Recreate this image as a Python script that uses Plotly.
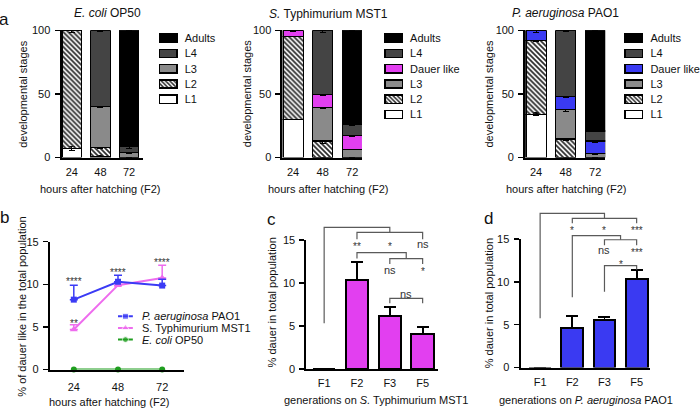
import plotly.graph_objects as go

W, H = 700, 416
FONT = "Liberation Sans, Arial, Helvetica, sans-serif"
INK = "#111111"


def fx(x):
    return x / W


def fy(y):
    return 1 - y / H


def xdom(a, b):
    return [a / W, b / W]


def ydom(top, bottom):
    return [1 - bottom / H, 1 - top / H]


# ---------------- data ----------------
hours = ["24", "48", "72"]

# panel a – E. coli OP50 (stacked %, bottom -> top)
ecoli_L1 = [7, 1, 0]
ecoli_L2 = [93, 7, 0]
ecoli_L3 = [0, 32, 4]
ecoli_L4 = [0, 60, 5]
ecoli_adults = [0, 0, 91]
ecoli_L1_err = [1.5, 0.5, 0]
ecoli_L2_err = [1.5, 1, 0]
ecoli_L3_err = [0, 1, 0.5]
ecoli_L4_err = [0, 1, 2]

# panel a – S. Typhimurium MST1
mst_L1 = [30, 0, 0]
mst_L2 = [65.3, 13, 0]
mst_L3 = [0, 26.5, 6.5]
mst_dauer = [4.7, 9.9, 10.7]
mst_L4 = [0, 50.6, 8.8]
mst_adults = [0, 0, 74]
mst_L2_err = [0.5, 2, 0]
mst_L3_err = [0, 1, 0.5]
mst_dauer_err = [0.5, 0.5, 1]
mst_L4_err = [0, 1.5, 0.5]

# panel a – P. aeruginosa PAO1
pao_L1 = [34, 0, 0]
pao_L2 = [57.8, 14.5, 0]
pao_L3 = [0, 23.2, 3]
pao_dauer = [8.2, 10.3, 9.9]
pao_L4 = [0, 52, 8]
pao_adults = [0, 0, 79.1]
pao_L1_err = [1, 0, 0]
pao_L2_err = [0.5, 1, 0]
pao_L3_err = [0, 1.5, 0.5]
pao_dauer_err = [1.5, 0.8, 1]
pao_L4_err = [0, 1, 0.5]

# panel b – % dauer like
hours_num = [24, 48, 72]
b_pao = [8.2, 10.3, 9.85]
b_pao_err = [1.7, 0.75, 0.75]
b_mst = [4.7, 9.9, 10.75]
b_mst_err = [0.55, 0.3, 1.5]
b_op50 = [0, 0, 0]
b_stars = [("****", 24, 10.56), ("**", 24, 5.62), ("****", 48, 11.58), ("****", 72, 12.84)]

# panels c / d – generations
gens = ["F1", "F2", "F3", "F5"]
c_vals = [0, 10.37, 6.1, 4.1]
c_err = [0, 2.08, 1.05, 0.8]
d_vals = [0, 4.6, 5.6, 10.3]
d_err = [0, 1.4, 0.3, 1.13]

# significance brackets (x in generation index, y in % units)
c_brackets = [
    ([0, 0, 2, 2], [5.3, 16.43, 16.43, 15.86]),
    ([1, 1, 3, 3], [15.07, 15.86, 15.86, 15.07]),
    ([1, 1, 2.5, 2.5], [12.82, 13.5, 13.5, 12.82]),
    ([2, 2, 3, 3], [12.18, 12.82, 12.82, 12.18]),
    ([2, 2, 3, 3], [7.63, 8.2, 8.2, 7.63]),
]
c_labels = [("**", 1, 14.5), ("*", 2, 14.5), ("ns", 3, 14.5),
            ("ns", 2, 11.5), ("*", 3, 11.5), ("ns", 2.5, 8.68)]
d_brackets = [
    ([0, 0, 2, 2], [5.75, 18.0, 18.0, 17.42]),
    ([1, 1, 3, 3], [16.85, 17.42, 17.42, 16.85]),
    ([1, 1, 2.5, 2.5], [8.2, 15.41, 15.41, 14.92]),
    ([2, 2, 3, 3], [14.27, 14.92, 14.92, 14.27]),
    ([2, 2, 3, 3], [8.86, 11.89, 11.89, 11.43]),
]
d_labels = [("*", 1, 16.28), ("*", 2, 16.28), ("***", 3, 16.28),
            ("ns", 2, 13.7), ("***", 3, 13.7), ("*", 2.5, 12.27)]

# ---------------- styles ----------------
WHITE, L3C, L4C, ADC = "#ffffff", "#8a8a8a", "#444444", "#000000"
PINK, BLUE = "#e23ff0", "#3a3af2"
B_BLUE, B_PINK, B_GREEN = "#3b3bf5", "#ee6cee", "#1f9e1f"
HATCH = "\\"

fig = go.Figure()
xpos = list(range(len(hours)))


def stacked(stages, xa, ya):
    for vals, errs, color, hatch in stages:
        fig.add_trace(go.Bar(
            x=xpos, y=vals, width=0.68, xaxis=xa, yaxis=ya,
            marker=dict(color=color, line=dict(color="black", width=1.2),
                        pattern=dict(shape=hatch, size=3.5, solidity=0.5,
                                     fgcolor="#2a2a2a", fillmode="replace")),
            error_y=dict(type="data", array=errs, visible=True, color="black",
                         thickness=1.2, width=3),
            showlegend=False, hoverinfo="skip"))


def legend_boxes(colors, hatches, xa, ya):
    for i, (color, hatch) in enumerate(zip(colors, hatches)):
        fig.add_trace(go.Bar(
            x=[1], y=[i], orientation="h", width=0.54, xaxis=xa, yaxis=ya,
            marker=dict(color=color, line=dict(color="black", width=1.5),
                        pattern=dict(shape=hatch, size=3, solidity=0.5,
                                     fgcolor="#2a2a2a", fillmode="replace")),
            cliponaxis=False, showlegend=False, hoverinfo="skip"))


zero = [0, 0, 0]
stacked([(ecoli_L1, ecoli_L1_err, WHITE, ""), (ecoli_L2, ecoli_L2_err, WHITE, HATCH),
         (ecoli_L3, ecoli_L3_err, L3C, ""), (ecoli_L4, ecoli_L4_err, L4C, ""),
         (ecoli_adults, zero, ADC, "")], "x", "y")
legend_boxes([ADC, L4C, L3C, WHITE, WHITE], ["", "", "", HATCH, ""], "x2", "y2")

stacked([(mst_L1, zero, WHITE, ""), (mst_L2, mst_L2_err, WHITE, HATCH),
         (mst_L3, mst_L3_err, L3C, ""), (mst_dauer, mst_dauer_err, PINK, ""),
         (mst_L4, mst_L4_err, L4C, ""), (mst_adults, zero, ADC, "")], "x3", "y3")
legend_boxes([ADC, L4C, PINK, L3C, WHITE, WHITE], ["", "", "", "", HATCH, ""], "x4", "y4")

stacked([(pao_L1, pao_L1_err, WHITE, ""), (pao_L2, pao_L2_err, WHITE, HATCH),
         (pao_L3, pao_L3_err, L3C, ""), (pao_dauer, pao_dauer_err, BLUE, ""),
         (pao_L4, pao_L4_err, L4C, ""), (pao_adults, zero, ADC, "")], "x5", "y5")
legend_boxes([ADC, L4C, BLUE, L3C, WHITE, WHITE], ["", "", "", "", HATCH, ""], "x6", "y6")

# panel b
for vals, errs, color, sym, size in [(b_op50, None, B_GREEN, "circle", 6),
                                     (b_mst, b_mst_err, B_PINK, "triangle-up", 7),
                                     (b_pao, b_pao_err, B_BLUE, "square", 6)]:
    ey = None
    if errs is not None:
        ey = dict(type="data", symmetric=False, array=errs, arrayminus=[0] * len(errs),
                  color=color, thickness=1.5, width=4, visible=True)
    fig.add_trace(go.Scatter(
        x=hours_num, y=vals, mode="lines+markers", xaxis="x7", yaxis="y7",
        line=dict(color=color, width=2), marker=dict(color=color, symbol=sym, size=size),
        error_y=ey, cliponaxis=False, showlegend=False, hoverinfo="skip"))

# panel b legend symbols
b_leg = [(B_BLUE, "square", 6, "<i>P. aeruginosa</i> PAO1"),
         (B_PINK, "triangle-up", 7, "S. Typhimurium MST1"),
         (B_GREEN, "circle", 6, "<i>E. coli</i> OP50")]
for i, (color, sym, size, _) in enumerate(b_leg):
    fig.add_trace(go.Scatter(
        x=[0, 0.5, 1], y=[i, i, i], mode="lines+markers", xaxis="x8", yaxis="y8",
        line=dict(color=color, width=2), marker=dict(color=color, symbol=sym, size=[0, size, 0]),
        cliponaxis=False, showlegend=False, hoverinfo="skip"))

# panels c / d
gpos = list(range(len(gens)))
for vals, errs, color, xa, ya in [(c_vals, c_err, PINK, "x9", "y9"), (d_vals, d_err, BLUE, "x10", "y10")]:
    fig.add_trace(go.Bar(
        x=gpos, y=vals, width=0.68, xaxis=xa, yaxis=ya,
        marker=dict(color=color, line=dict(color="black", width=2)),
        error_y=dict(type="data", symmetric=False, array=errs, arrayminus=[0] * len(errs),
                     color="black", thickness=1.8, width=6, visible=True),
        showlegend=False, hoverinfo="skip"))

for brackets, xa, ya in [(c_brackets, "x11", "y11"), (d_brackets, "x12", "y12")]:
    bx, by = [], []
    for sx, sy in brackets:
        bx += sx + [None]
        by += sy + [None]
    fig.add_trace(go.Scatter(x=bx, y=by, mode="lines", xaxis=xa, yaxis=ya,
                             line=dict(color="#5a5a5a", width=1.2),
                             showlegend=False, hoverinfo="skip"))

# ---------------- axes ----------------
TF = dict(family=FONT, size=11, color=INK)


def main_x(dom, rng, tv, tt, anchor):
    return dict(domain=xdom(*dom), range=rng, tickvals=tv, ticktext=tt, anchor=anchor,
                showline=True, linecolor="black", linewidth=2, ticks="", showgrid=False,
                zeroline=False, tickfont=TF, ticklabelstandoff=3, fixedrange=True)


def main_y(dom, rng, tv, anchor):
    return dict(domain=ydom(*dom), range=rng, tickvals=tv, anchor=anchor,
                showline=True, linecolor="black", linewidth=2, ticks="outside", ticklen=5,
                tickwidth=1.5, tickcolor="black", showgrid=False, zeroline=False,
                tickfont=TF, ticklabelstandoff=2, fixedrange=True)


def hidden_x(dom, rng, anchor):
    return dict(domain=xdom(*dom), range=rng, anchor=anchor, visible=False, fixedrange=True)


def legend_y(dom, labels, anchor):
    n = len(labels)
    return dict(domain=ydom(*dom), range=[n - 0.5, -0.5], tickvals=list(range(n)),
                ticktext=labels, side="right", anchor=anchor, showline=False, ticks="",
                showgrid=False, zeroline=False, tickfont=TF, ticklabelstandoff=5, fixedrange=True)


def hidden_y(dom, rng, anchor):
    return dict(domain=ydom(*dom), range=rng, anchor=anchor, visible=False, fixedrange=True)


labels5 = ["Adults", "L4", "L3", "L2", "L1"]
labels6 = ["Adults", "L4", "Dauer like", "L3", "L2", "L1"]
ROW = 15.7
BOX = 17.5
PADL = 0.1  # legend box x-padding in axis units


def legend_x(left, anchor):
    u = BOX
    return hidden_x((left - PADL * u, left + (1 + PADL) * u), [-PADL, 1 + PADL], anchor)


layout_axes = dict(
    xaxis=main_x((61.7, 143), [-0.36, 2.47], xpos, hours, "y"),
    yaxis=main_y((25, 156), [0, 100], [0, 50, 100], "x"),
    xaxis2=legend_x(160, "y2"),
    yaxis2=legend_y((33.3 - ROW / 2, 33.3 + 4.5 * ROW), labels5, "x2"),
    xaxis3=main_x((283.3, 363), [-0.36, 2.33], xpos, hours, "y3"),
    yaxis3=main_y((25, 156), [0, 100], [0, 50, 100], "x3"),
    xaxis4=legend_x(386, "y4"),
    yaxis4=legend_y((33.3 - ROW / 2, 33.3 + 5.5 * ROW), labels6, "x4"),
    xaxis5=main_x((526.7, 607), [-0.37, 2.34], xpos, hours, "y5"),
    yaxis5=main_y((25, 156), [0, 100], [0, 50, 100], "x5"),
    xaxis6=legend_x(627, "y6"),
    yaxis6=legend_y((33.3 - ROW / 2, 33.3 + 5.5 * ROW), labels6, "x6"),
    xaxis7=dict(main_x((50, 185), [11.0, 84.1], hours_num, hours, "y7"), ticklabelstandoff=6),
    yaxis7=main_y((242.7, 374.3), [0, 15], [0, 5, 10, 15], "x7"),
    xaxis8=hidden_x((118.3, 133.3), [0, 1], "y8"),
    yaxis8=hidden_y((313.5, 349.5), [2.5, -0.5], "x8"),
    xaxis9=main_x((307.3, 439), [-0.54, 3.46], gpos, gens, "y9"),
    yaxis9=main_y((240.7, 373.7), [0, 15], [0, 5, 10, 15], "x9"),
    xaxis10=main_x((522, 651.7), [-0.61, 3.41], gpos, gens, "y10"),
    yaxis10=main_y((240, 372.3), [0, 15], [0, 5, 10, 15], "x10"),
    xaxis11=hidden_x((307.3, 439), [-0.54, 3.46], "y11"),
    yaxis11=hidden_y((373.7 - 16.7 * 133 / 15, 373.7), [0, 16.7], "x11"),
    xaxis12=hidden_x((522, 651.7), [-0.61, 3.41], "y12"),
    yaxis12=hidden_y((372.3 - 18.3 * 132.3 / 15, 372.3), [0, 18.3], "x12"),
)

# ---------------- annotations ----------------
ann = []


def text(x, y, s, size=11, **kw):
    d = dict(x=fx(x), y=fy(y), xref="paper", yref="paper", text=s, showarrow=False,
             font=dict(family=FONT, size=size, color=INK), xanchor="center", yanchor="middle")
    d.update(kw)
    ann.append(d)


text(4, 14, "a", 17)
text(5, 218, "b", 17)
text(272.5, 220, "c", 17)
text(490, 219, "d", 17)

text(107.5, 7, "<i>E. coli</i> OP50", 12)
text(329.5, 8, "<i>S.</i> Typhimurium MST1", 12)
text(566.7, 7, "<i>P. aeruginosa</i> PAO1", 12)

for cx in (100.5, 329, 568):
    text(cx, 188, "hours after hatching (F2)")
for cx in (23.5, 248.5, 490.5):
    text(cx, 90, "developmental stages", textangle=-90)

text(21.7, 310, "% of dauer like in the total population", textangle=-90)
text(109, 408, "hours after hatching (F2)")
text(273, 305, "% dauer in total population", textangle=-90)
text(490, 306.5, "% dauer in total population", textangle=-90)
text(376.7, 406, "generations on <i>S.</i> Typhimurium MST1")
text(587.5, 406, "generations on <i>P. aeruginosa</i> PAO1")

# panel b legend labels
for i, (_, _, _, lab) in enumerate(b_leg):
    ann.append(dict(x=fx(140), y=i, xref="paper", yref="y8", text=lab, showarrow=False,
                    xanchor="left", yanchor="middle", font=dict(family=FONT, size=11, color=INK)))

# panel b stars
for s, xv, yv in b_stars:
    ann.append(dict(x=xv, y=yv, xref="x7", yref="y7", text=s, showarrow=False, yshift=-2,
                    font=dict(family=FONT, size=10, color="#333333")))

# panels c/d bracket labels
for labels, xr, yr in [(c_labels, "x11", "y11"), (d_labels, "x12", "y12")]:
    for s, xv, yv in labels:
        star = s.startswith("*")
        ann.append(dict(x=xv, y=yv, xref=xr, yref=yr, text=s, showarrow=False,
                        yshift=-2 if star else 0,
                        font=dict(family=FONT, size=10 if star else 11, color="#333333")))

fig.update_layout(
    width=W, height=H, margin=dict(l=0, r=0, t=0, b=0),
    paper_bgcolor="white", plot_bgcolor="rgba(0,0,0,0)",
    barmode="stack", bargap=0, showlegend=False,
    font=dict(family=FONT, size=11, color=INK),
    annotations=ann, **layout_axes)

fig.write_html("out.html", config={"displayModeBar": False, "staticPlot": True},
               post_script="document.body.style.margin='0';document.body.style.overflow='hidden';")
